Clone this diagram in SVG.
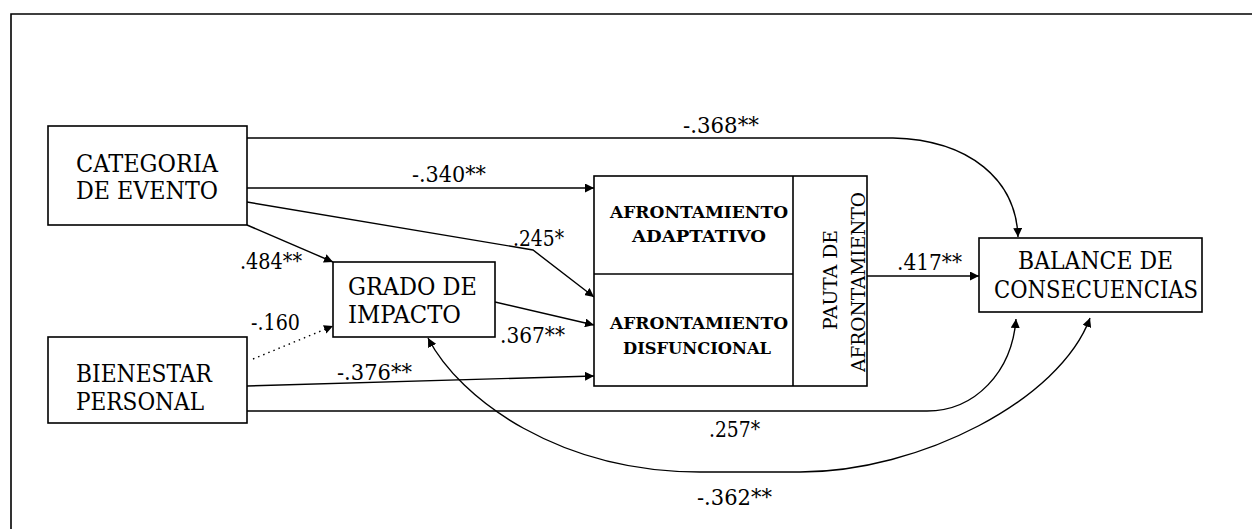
<svg xmlns="http://www.w3.org/2000/svg" width="1252" height="529" viewBox="0 0 1252 529">
<style>
.box{fill:#fff;stroke:#000;stroke-width:1.6}
.t{font-family:"DejaVu Serif","Liberation Serif",serif;font-size:25px;fill:#000}
.b{font-family:"DejaVu Serif","Liberation Serif",serif;font-size:17px;font-weight:bold;fill:#000}
.v{font-family:"DejaVu Serif","Liberation Serif",serif;font-size:18px;fill:#000}
.n{font-family:"DejaVu Serif","Liberation Serif",serif;font-size:22px;fill:#000}
.c{fill:none;stroke:#000;stroke-width:1.4}
</style>
<defs>
<marker id="ar" viewBox="0 0 10 10" refX="10" refY="5" markerWidth="9" markerHeight="9" markerUnits="userSpaceOnUse" orient="auto-start-reverse">
<path d="M0,0 L10,5 L0,10 z" fill="#000"/>
</marker>
</defs>
<g id="frame">
<path d="M11,529 V14 H1252" fill="none" stroke="#000" stroke-width="1.6"/>
</g>
<g id="connectors">
<path class="c" d="M247,138 H893 C970,140 1016,180 1018,237" marker-end="url(#ar)"/>
<path class="c" d="M247,188 H594" marker-end="url(#ar)"/>
<path class="c" d="M247,202 L533,250 L594,297" marker-end="url(#ar)"/>
<path class="c" d="M247,225 L333,262" marker-end="url(#ar)"/>
<path class="c" d="M253,359 L333,326" stroke-dasharray="1.5,4" marker-end="url(#ar)"/>
<path class="c" d="M247,386 L594,376" marker-end="url(#ar)"/>
<path class="c" d="M247,411 H927 C975,411 1012,372 1016,319" marker-end="url(#ar)"/>
<path class="c" d="M495,302 L594,325" marker-end="url(#ar)"/>
<path class="c" d="M428,338 C460,400 560,472 700,472 L800,472 C920,472 1060,400 1090,318" marker-start="url(#ar)" marker-end="url(#ar)"/>
<path class="c" d="M867,276 H979" marker-end="url(#ar)"/>
<text class="n" x="683" y="133" textLength="76" lengthAdjust="spacingAndGlyphs">-.368**</text>
<text class="n" x="412" y="182" textLength="74" lengthAdjust="spacingAndGlyphs">-.340**</text>
<text class="n" x="513" y="246" textLength="51" lengthAdjust="spacingAndGlyphs">.245*</text>
<text class="n" x="240" y="269" textLength="62" lengthAdjust="spacingAndGlyphs">.484**</text>
<text class="n" x="251" y="330" textLength="49" lengthAdjust="spacingAndGlyphs">-.160</text>
<text class="n" x="337" y="380" textLength="75" lengthAdjust="spacingAndGlyphs">-.376**</text>
<text class="n" x="500" y="343" textLength="65" lengthAdjust="spacingAndGlyphs">.367**</text>
<text class="n" x="709" y="437" textLength="51" lengthAdjust="spacingAndGlyphs">.257*</text>
<text class="n" x="697" y="505" textLength="75" lengthAdjust="spacingAndGlyphs">-.362**</text>
<text class="n" x="897" y="270" textLength="65" lengthAdjust="spacingAndGlyphs">.417**</text>
</g>
<g id="categoria">
<rect class="box" x="48" y="126" width="199" height="99"/>
<text class="t" x="76" y="172" textLength="142" lengthAdjust="spacingAndGlyphs">CATEGORIA</text>
<text class="t" x="76" y="199" textLength="142" lengthAdjust="spacingAndGlyphs">DE EVENTO</text>
</g>
<g id="bienestar">
<rect class="box" x="48" y="337" width="199" height="86"/>
<text class="t" x="76" y="382" textLength="136" lengthAdjust="spacingAndGlyphs">BIENESTAR</text>
<text class="t" x="76" y="410" textLength="128" lengthAdjust="spacingAndGlyphs">PERSONAL</text>
</g>
<g id="grado">
<rect class="box" x="333" y="262" width="162" height="75"/>
<text class="t" x="348" y="295" textLength="129" lengthAdjust="spacingAndGlyphs">GRADO DE</text>
<text class="t" x="348" y="323" textLength="113" lengthAdjust="spacingAndGlyphs">IMPACTO</text>
</g>
<g id="afrontamiento">
<rect class="box" x="594" y="176" width="273" height="210"/>
<line x1="793" y1="176" x2="793" y2="386" stroke="#000" stroke-width="1.6"/>
<line x1="594" y1="274" x2="793" y2="274" stroke="#000" stroke-width="1.6"/>
<text class="b" x="610" y="218" textLength="178" lengthAdjust="spacingAndGlyphs">AFRONTAMIENTO</text>
<text class="b" x="632" y="242" textLength="134" lengthAdjust="spacingAndGlyphs">ADAPTATIVO</text>
<text class="b" x="610" y="329" textLength="178" lengthAdjust="spacingAndGlyphs">AFRONTAMIENTO</text>
<text class="b" x="623" y="354" textLength="148" lengthAdjust="spacingAndGlyphs">DISFUNCIONAL</text>
<text class="v" transform="translate(837,280) rotate(-90)" text-anchor="middle" textLength="100" lengthAdjust="spacingAndGlyphs">PAUTA DE</text>
<text class="v" transform="translate(865,282) rotate(-90)" text-anchor="middle" textLength="180" lengthAdjust="spacingAndGlyphs">AFRONTAMIENTO</text>
</g>
<g id="balance">
<rect class="box" x="979" y="238" width="223" height="74"/>
<text class="t" x="1018" y="269" textLength="155" lengthAdjust="spacingAndGlyphs">BALANCE DE</text>
<text class="t" x="994" y="298" textLength="204" lengthAdjust="spacingAndGlyphs">CONSECUENCIAS</text>
</g>
</svg>
